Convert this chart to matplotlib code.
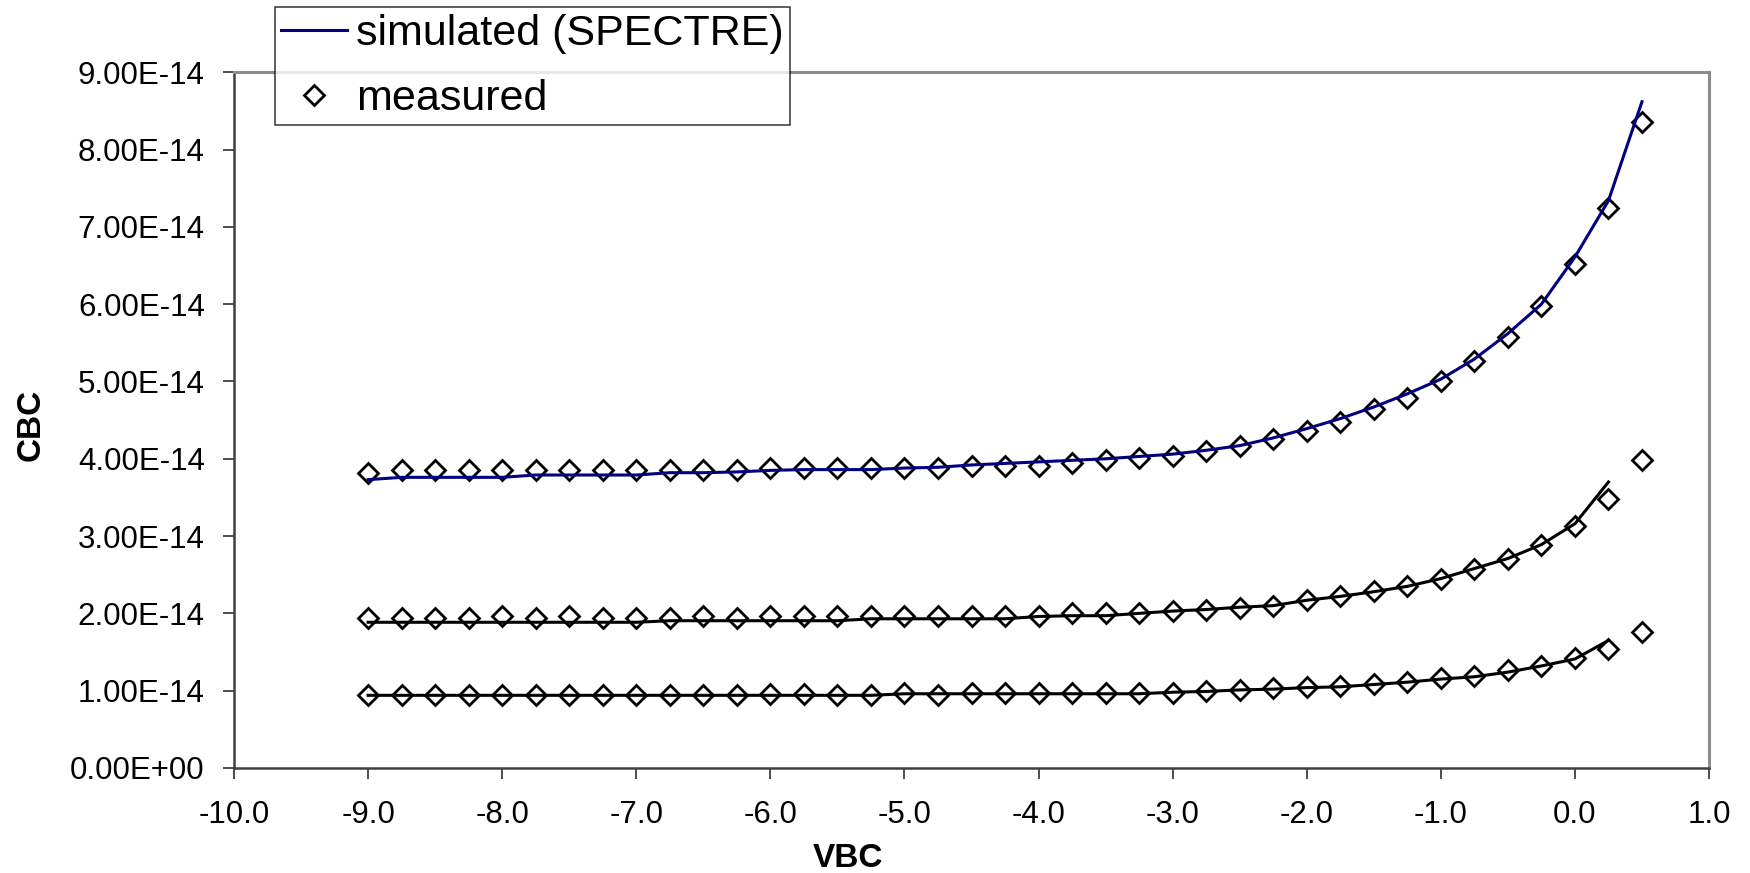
import numpy as np
import matplotlib
matplotlib.use("Agg")
import matplotlib.pyplot as plt
from matplotlib.lines import Line2D
from matplotlib.ticker import FormatStrFormatter

plt.rcParams['font.family'] = ['Liberation Sans', 'DejaVu Sans']

# ---- data -------------------------------------------------------------
# measured bias points (VBC, volts)
vbc_meas = [-9.0, -8.75, -8.5, -8.25, -8.0, -7.75, -7.5, -7.25, -7.0, -6.75,
            -6.5, -6.25, -6.0, -5.75, -5.5, -5.25, -5.0, -4.75, -4.5, -4.25,
            -4.0, -3.75, -3.5, -3.25, -3.0, -2.75, -2.5, -2.25, -2.0, -1.75,
            -1.5, -1.25, -1.0, -0.75, -0.5, -0.25, 0.0, 0.25, 0.5]

# measured CBC, units of 1e-14 F
cbc_meas_large = [3.81, 3.85, 3.85, 3.85, 3.85, 3.85, 3.85, 3.85, 3.85, 3.85,
                  3.85, 3.85, 3.88, 3.88, 3.88, 3.88, 3.88, 3.88, 3.91, 3.91,
                  3.91, 3.95, 3.98, 4.01, 4.04, 4.10, 4.17, 4.26, 4.36, 4.48,
                  4.64, 4.79, 5.01, 5.26, 5.58, 5.98, 6.52, 7.24, 8.36]
cbc_meas_mid = [1.94, 1.94, 1.94, 1.94, 1.97, 1.94, 1.97, 1.94, 1.94, 1.94,
                1.97, 1.94, 1.97, 1.96, 1.96, 1.96, 1.96, 1.96, 1.96, 1.96,
                1.97, 2.00, 2.00, 2.01, 2.03, 2.04, 2.07, 2.10, 2.17, 2.23,
                2.29, 2.36, 2.45, 2.58, 2.70, 2.88, 3.13, 3.48, 3.98]
cbc_meas_small = [0.94, 0.94, 0.94, 0.94, 0.94, 0.94, 0.94, 0.94, 0.94, 0.94,
                  0.94, 0.94, 0.96, 0.96, 0.94, 0.94, 0.97, 0.94, 0.97, 0.97,
                  0.97, 0.97, 0.97, 0.97, 0.97, 1.00, 1.01, 1.03, 1.05, 1.06,
                  1.09, 1.11, 1.17, 1.19, 1.27, 1.32, 1.42, 1.54, 1.76]

# SPECTRE simulation sweeps
vbc_sim_large = [-9.0, -8.75, -8.5, -8.25, -8.0, -7.75, -7.5, -7.25, -7.0, -6.75,
                 -6.5, -6.25, -6.0, -5.75, -5.5, -5.25, -5.0, -4.75, -4.5, -4.25,
                 -4.0, -3.75, -3.5, -3.25, -3.0, -2.75, -2.5, -2.25, -2.0, -1.75,
                 -1.5, -1.25, -1.0, -0.75, -0.5, -0.25, 0.0, 0.25, 0.375, 0.5]
cbc_sim_large = [3.73, 3.76, 3.76, 3.76, 3.76, 3.79, 3.79, 3.79, 3.79, 3.82,
                 3.82, 3.83, 3.85, 3.86, 3.86, 3.86, 3.88, 3.89, 3.92, 3.94,
                 3.96, 3.98, 4.00, 4.03, 4.06, 4.11, 4.17, 4.27, 4.39, 4.52,
                 4.67, 4.84, 5.03, 5.29, 5.62, 6.00, 6.61, 7.34, 7.98, 8.62]

vbc_sim = [-9.0, -8.75, -8.5, -8.25, -8.0, -7.75, -7.5, -7.25, -7.0, -6.75,
           -6.5, -6.25, -6.0, -5.75, -5.5, -5.25, -5.0, -4.75, -4.5, -4.25,
           -4.0, -3.75, -3.5, -3.25, -3.0, -2.75, -2.5, -2.25, -2.0, -1.75,
           -1.5, -1.25, -1.0, -0.75, -0.5, -0.25, 0.0, 0.25]
cbc_sim_mid = [1.885, 1.885, 1.885, 1.885, 1.885, 1.885, 1.885, 1.885, 1.885, 1.905,
               1.905, 1.905, 1.905, 1.905, 1.905, 1.93, 1.93, 1.93, 1.93, 1.93,
               1.96, 1.97, 1.97, 2.00, 2.03, 2.05, 2.08, 2.10, 2.17, 2.22,
               2.28, 2.35, 2.45, 2.58, 2.71, 2.89, 3.16, 3.70]
cbc_sim_small = [0.94, 0.94, 0.94, 0.94, 0.94, 0.94, 0.94, 0.94, 0.94, 0.94,
                 0.94, 0.94, 0.94, 0.94, 0.94, 0.94, 0.96, 0.96, 0.96, 0.96,
                 0.96, 0.96, 0.96, 0.96, 0.98, 0.99, 1.01, 1.02, 1.04, 1.05,
                 1.08, 1.11, 1.15, 1.18, 1.24, 1.32, 1.41, 1.65]

SCALE = 1e-14
x_ticks = [-10.0, -9.0, -8.0, -7.0, -6.0, -5.0, -4.0, -3.0, -2.0, -1.0, 0.0, 1.0]
y_ticks = [0, 1e-14, 2e-14, 3e-14, 4e-14, 5e-14, 6e-14, 7e-14, 8e-14, 9e-14]

# ---- figure -----------------------------------------------------------
fig = plt.figure(figsize=(17.5, 8.73), dpi=100)
ax = fig.add_axes([0.1337, 0.1203, 0.8429, 0.7969])

marker_kw = dict(linestyle='none', marker='D', markersize=10,
                 markerfacecolor='white', markeredgecolor='black',
                 markeredgewidth=2.0)
for series in (cbc_meas_large, cbc_meas_mid, cbc_meas_small):
    ax.plot(vbc_meas, np.array(series) * SCALE, zorder=3, **marker_kw)

ax.plot(vbc_sim_large, np.array(cbc_sim_large) * SCALE, color='#000080',
        lw=2.2, zorder=4)
ax.plot(vbc_sim, np.array(cbc_sim_mid) * SCALE, color='black', lw=2.2, zorder=4)
ax.plot(vbc_sim, np.array(cbc_sim_small) * SCALE, color='black', lw=2.2, zorder=4)

ax.set_xlim(-10.0, 1.0)
ax.set_ylim(0, 9e-14)
ax.set_xticks(x_ticks)
ax.set_yticks(y_ticks)
ax.xaxis.set_major_formatter(FormatStrFormatter('%.1f'))
ax.yaxis.set_major_formatter(FormatStrFormatter('%.2E'))
ax.tick_params(axis='both', direction='out', length=8, width=1.3,
               color='#404040', labelsize=22.5)
ax.tick_params(axis='y', pad=13)
ax.tick_params(axis='x', pad=15)

for side in ('left', 'bottom'):
    ax.spines[side].set_color('#404040')
    ax.spines[side].set_linewidth(1.8)
for side in ('top', 'right'):
    ax.spines[side].set_color('#8c8c8c')
    ax.spines[side].set_linewidth(2.2)

fig.text(0.0177, 0.513, 'CBC', rotation=90, fontsize=24, fontweight='bold',
         ha='center', va='center')
fig.text(0.4845, 0.0165, 'VBC', fontsize=24, fontweight='bold',
         ha='center', va='center')

handles = [
    Line2D([], [], color='#000080', lw=2.2),
    Line2D([], [], **marker_kw),
]
leg = fig.legend(handles, ['simulated (SPECTRE)', 'measured'],
                 loc='upper left', bbox_to_anchor=(0.1569, 0.9916),
                 fontsize=31, frameon=True, fancybox=False, shadow=False,
                 handlelength=1.53, handletextpad=0.21, borderpad=0.15,
                 labelspacing=0.58, borderaxespad=0)
leg.get_frame().set_edgecolor('black')
leg.get_frame().set_linewidth(1.1)
leg.set_zorder(10)

fig.savefig('out.png', dpi=100, facecolor='white')
